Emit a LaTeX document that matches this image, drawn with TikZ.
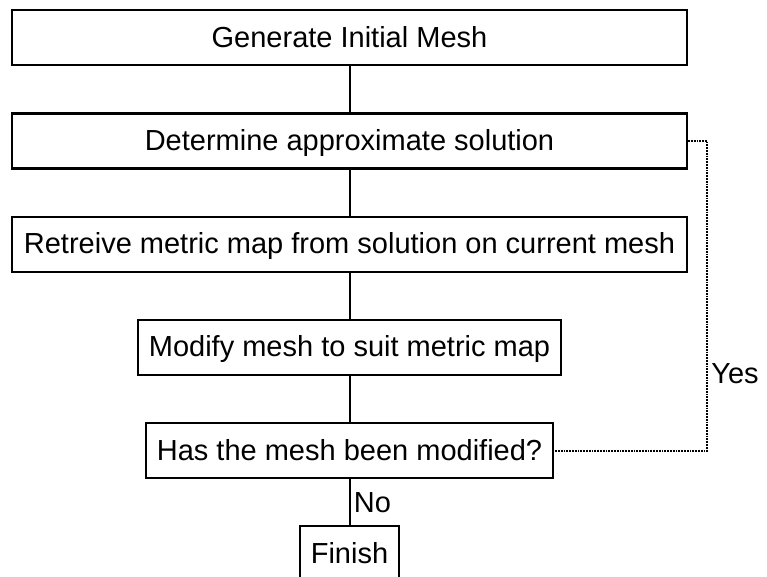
\documentclass[tikz,border=0pt]{standalone}
\usepackage{fontspec}
\setmainfont{Liberation Sans}
\usetikzlibrary{matrix, calc}

\begin{document}
\begin{tikzpicture}[block/.style={draw, line width=2.2pt, minimum height=55pt, inner xsep=11pt, text height=21pt, text depth=2pt, font=\fontsize{29pt}{34pt}\selectfont},
    wide/.style={minimum width=675pt},
    wire/.style={line width=2pt},
    feedback/.style={line width=1.8pt, densely dotted}]
        \clip (0,0) rectangle (767pt,-577pt);
        \matrix (m) [matrix of nodes, nodes={block}, row sep=46pt, inner sep=0pt, anchor=north] at (349.5pt,-9pt) {
        |[wide]| Generate Initial Mesh \\
        |[wide]| Determine approximate solution \\
        |[wide]| Retreive metric map from solution on current mesh \\
        Modify mesh to suit metric map \\
        Has the mesh been modified? \\
        Finish \\    };

        \foreach \i/\j in {1/2, 2/3, 3/4, 4/5}
            \draw[wire] (m-\i-1) -- (m-\j-1);
        \draw[wire] (m-5-1) -- node[right, font=\fontsize{29pt}{34pt}\selectfont]{No} (m-6-1);
        \draw[feedback] (m-2-1.east) -- ++(19pt,0) |- node[pos=0.375, right, font=\fontsize{29pt}{34pt}\selectfont]{Yes} (m-5-1.east);
    \end{tikzpicture}
\end{document}
